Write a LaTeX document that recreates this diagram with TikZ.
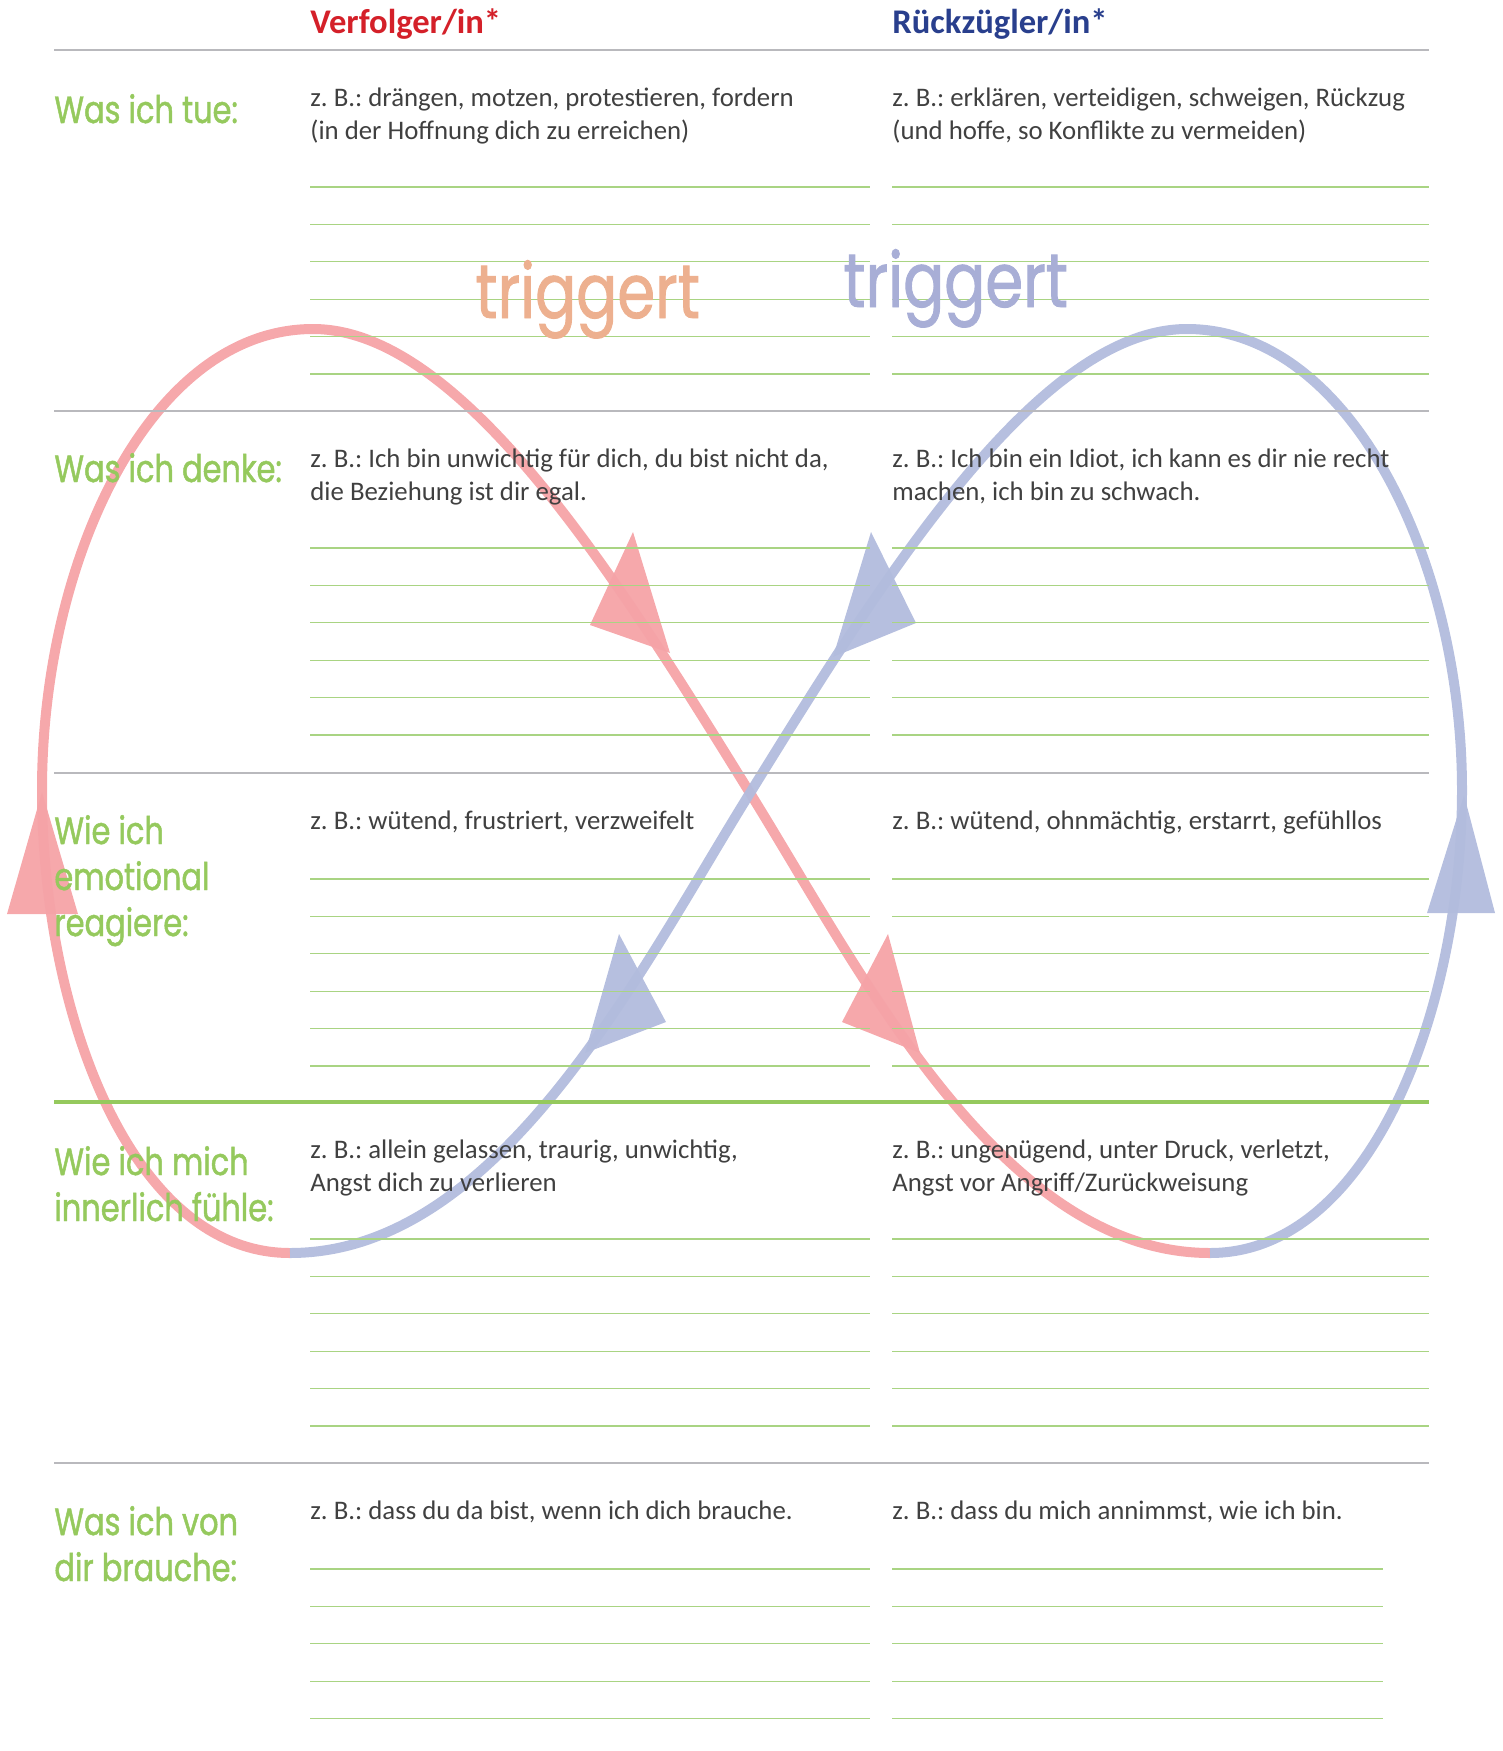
\documentclass[tikz,border=0pt]{standalone}
\usepackage{fontspec}
\setmainfont{Carlito}
\newfontfamily\handfont{Poppins}[FakeStretch=0.8, FakeBold=1.2]
\usepackage{tikz}
\usetikzlibrary{positioning}
\frenchspacing

\definecolor{grasgruen}{HTML}{95C95D}
\definecolor{liniengruen}{HTML}{A9D483}
\definecolor{liniengrau}{HTML}{B9B9BD}
\definecolor{schrift}{HTML}{404040}
\definecolor{kopfrot}{HTML}{D42029}
\definecolor{kopfblau}{HTML}{293F8D}
\definecolor{pfadrot}{HTML}{F5A3A7}
\definecolor{pfadblau}{HTML}{B2BCDD}
\definecolor{triggrot}{HTML}{EDB08F}
\definecolor{triggblau}{HTML}{A8AED6}

\tikzset{
  zeile/.style={liniengruen, line width=0.6pt},
  trenner/.style={liniengrau, line width=1.2pt},
  rubrik/.style={anchor=base west, align=left, inner sep=0pt, text=grasgruen,
    font=\handfont\fontsize{19}{23}\selectfont},
  beispiel/.style={anchor=base west, align=left, inner sep=0pt, text=schrift,
    font=\fontsize{13.4}{16.5}\selectfont},
  kopf/.style={anchor=base west, inner sep=0pt, font=\bfseries\fontsize{17.3}{20}\selectfont},
  trigger/.style={anchor=base west, inner sep=0pt, font=\handfont\fontsize{38}{40}\selectfont},
  schleife/.style={line width=5pt, opacity=0.95},
  spitze/.style={opacity=0.95}
}

\begin{document}
\begin{tikzpicture}[x=0.5pt, y=-0.5pt]
\useasboundingbox (0,0) rectangle (1503,1751);

\coordinate (lu) at (290,1253);
\coordinate (li) at (42,790);
\coordinate (lo) at (313,329);
\coordinate (mitte) at (750,793);
\coordinate (ro) at (1187,329);
\coordinate (re) at (1462,790);
\coordinate (ru) at (1210,1253);

\draw[schleife, pfadrot] (lu) .. controls (130,1253) and (42,1010) .. (li)
  .. controls (42,560) and (150,329) .. (lo)
  .. controls (463,329) and (620,583) .. (mitte)
  .. controls (860,970) and (1000,1253) .. (ru);
\draw[schleife, pfadblau] (lu) .. controls (500,1253) and (640,970) .. (mitte)
  .. controls (880,583) and (1037,329) .. (ro)
  .. controls (1350,329) and (1462,560) .. (re)
  .. controls (1462,1010) and (1370,1253) .. (ru);

\fill[spitze, pfadrot] (42,792) -- (7,914) -- (78,914) -- cycle;
\fill[spitze, pfadrot] (633,532) -- (590,625) -- (670,653) -- cycle;
\fill[spitze, pfadrot] (888,934) -- (842,1022) -- (920,1053) -- cycle;
\fill[spitze, pfadblau] (1464,795) -- (1427,913) -- (1495,913) -- cycle;
\fill[spitze, pfadblau] (871,532) -- (833,657) -- (916,623) -- cycle;
\fill[spitze, pfadblau] (619,934) -- (666,1022) -- (585,1053) -- cycle;

\foreach \y in {50,411,773,1463} \draw[trenner] (54,\y) -- (1429,\y);
\draw[grasgruen, line width=1.8pt] (54,1102) -- (1429,1102);

\foreach \r/\n/\k in {50/2/5, 411/2/5, 773/1/5, 1102/2/5, 1463/1/4} {
  \foreach \i in {0,...,\k} {
    \draw[zeile] (310,{\r+75+31*\n+37.4*\i}) -- (870,{\r+75+31*\n+37.4*\i});
    \ifnum\r=1463
      \draw[zeile] (892,{\r+75+31*\n+37.4*\i}) -- (1383,{\r+75+31*\n+37.4*\i});
    \else
      \draw[zeile] (892,{\r+75+31*\n+37.4*\i}) -- (1429,{\r+75+31*\n+37.4*\i});
    \fi
  }
}

\node[kopf, text=kopfrot] (verfolger) at (310,33) {Verfolger/in*};
\node[kopf, text=kopfblau] (rueckzug) at (892,33) {Rückzügler/in*};

\node[trigger, text=triggrot] (trigA) at (475,318) {triggert};
\node[trigger, text=triggblau] (trigB) at (843,307) {triggert};

\node[rubrik] (tue) at (54,123) {Was ich tue:};
\node[rubrik] (denke) at (54,482) {Was ich denke:};
\node[rubrik] (emotion) at (54,936) {Wie ich\\emotional\\reagiere:};
\node[rubrik] (fuehle) at (54,1221) {Wie ich mich\\innerlich fühle:};
\node[rubrik] (brauche) at (54,1581) {Was ich von\\dir brauche:};

\node[beispiel] (v1) at (310,139) {z. B.: drängen, motzen, protestieren, fordern\\(in der Hoffnung dich zu erreichen)};
\node[beispiel] (r1) at (892,139) {z. B.: erklären, verteidigen, schweigen, Rückzug\\(und hoffe, so Konflikte zu vermeiden)};
\node[beispiel] (v2) at (310,500) {z. B.: Ich bin unwichtig für dich, du bist nicht da,\\die Beziehung ist dir egal.};
\node[beispiel] (r2) at (892,500) {z. B.: Ich bin ein Idiot, ich kann es dir nie recht\\machen, ich bin zu schwach.};
\node[beispiel] (v3) at (310,829) {z. B.: wütend, frustriert, verzweifelt};
\node[beispiel] (r3) at (892,829) {z. B.: wütend, ohnmächtig, erstarrt, gefühllos};
\node[beispiel] (v4) at (310,1191) {z. B.: allein gelassen, traurig, unwichtig,\\Angst dich zu verlieren};
\node[beispiel] (r4) at (892,1191) {z. B.: ungenügend, unter Druck, verletzt,\\Angst vor Angriff/Zurückweisung};
\node[beispiel] (v5) at (310,1519) {z. B.: dass du da bist, wenn ich dich brauche.};
\node[beispiel] (r5) at (892,1519) {z. B.: dass du mich annimmst, wie ich bin.};
\end{tikzpicture}
\end{document}
